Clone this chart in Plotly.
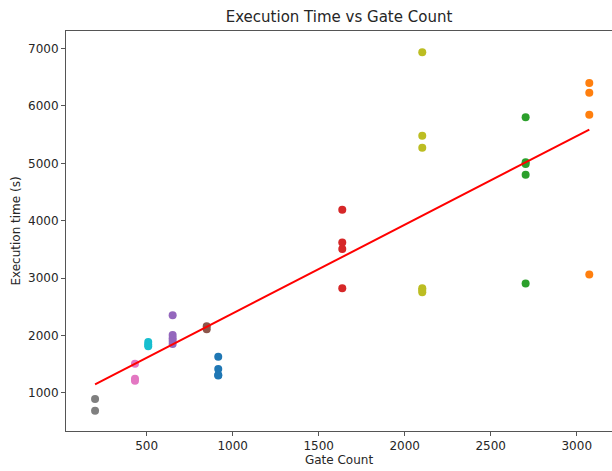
import plotly.graph_objects as go

# Gate count per circuit group and measured execution times (s)
gate_counts = [916, 3073, 2703, 1637, 651, 849, 432, 200, 2102, 509]
exec_times = [
    [1627, 1413, 1308, 1300],        # blue
    [6400, 6230, 5845, 3063],        # orange
    [5805, 5020, 4990, 4800, 2905],  # green
    [4190, 3620, 3505, 2820],        # red
    [2350, 2005, 1950, 1900, 1850],  # purple
    [2160, 2105],                    # brown
    [1505, 1245, 1210],              # pink
    [890, 685],                      # gray
    [6935, 5480, 5270, 2820, 2790, 2750],  # olive
    [1885, 1840, 1810],              # cyan
]
colors = ["#1f77b4", "#ff7f0e", "#2ca02c", "#d62728", "#9467bd",
          "#8c564b", "#e377c2", "#7f7f7f", "#bcbd22", "#17becf"]

# regression fit (slope, intercept)
fit_coefs = [1.547, 835]

x_ticks = [500, 1000, 1500, 2000, 2500, 3000]
y_ticks = [1000, 2000, 3000, 4000, 5000, 6000, 7000]

fig = go.Figure()
all_x = []
for g, ts, c in zip(gate_counts, exec_times, colors):
    xs = [g] * len(ts)
    all_x += xs
    fig.add_trace(go.Scatter(x=xs, y=ts, mode="markers",
                             marker=dict(color=c, size=8, line=dict(width=0)),
                             showlegend=False))

fx = sorted(all_x)
fy = [fit_coefs[0] * v + fit_coefs[1] for v in fx]
fig.add_trace(go.Scatter(x=fx, y=fy, mode="lines",
                         line=dict(color="red", width=2), showlegend=False))

font = "DejaVu Sans, sans-serif"
fig.update_layout(
    width=612, height=471,
    margin=dict(l=66, r=0, t=31, b=40),
    plot_bgcolor="white", paper_bgcolor="white",
    font=dict(family=font, size=13, color="#262626"),
    title=dict(text="Execution Time vs Gate Count", x=0.5, xref="paper",
               y=1 - 17 / 471, yref="container", yanchor="middle",
               font=dict(size=15, color="#262626")),
)
fig.update_xaxes(range=[31, 3205], tickvals=x_ticks, showgrid=False, zeroline=False,
                 showline=True, linecolor="#555", linewidth=1, mirror=True,
                 ticks="outside", ticklen=4, tickcolor="#555",
                 tickfont=dict(size=12),
                 title=dict(text="Gate Count", standoff=3, font=dict(size=12)))
fig.update_yaxes(range=[333, 7307], tickvals=y_ticks, showgrid=False, zeroline=False,
                 showline=True, linecolor="#555", linewidth=1, mirror=False,
                 ticks="outside", ticklen=4, tickcolor="#555",
                 tickfont=dict(size=12),
                 title=dict(text="Execution time (s)", standoff=4, font=dict(size=12)))

fig.write_html("out.html")
